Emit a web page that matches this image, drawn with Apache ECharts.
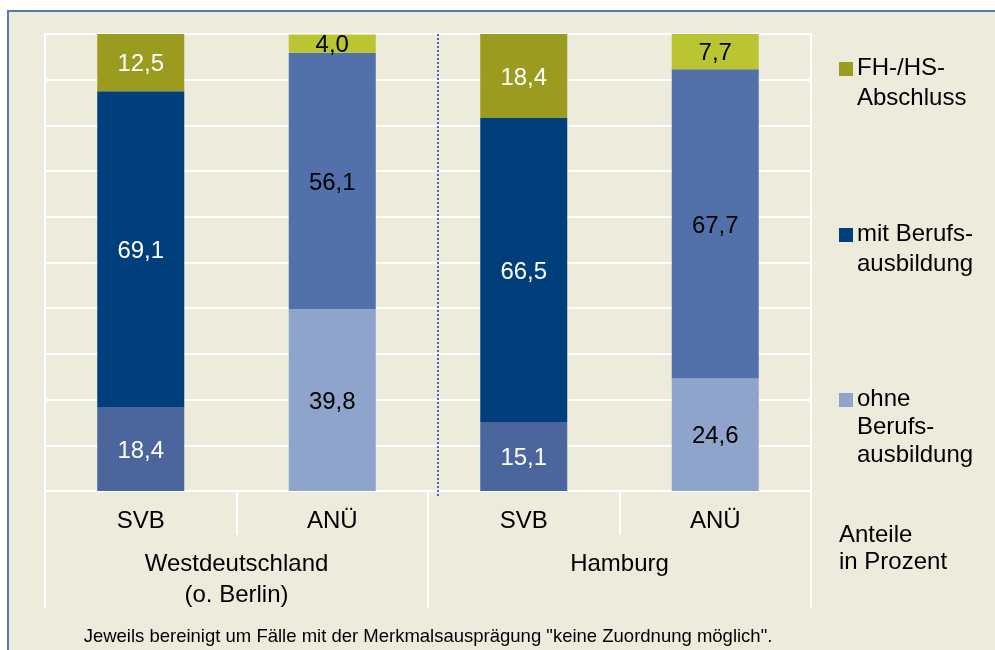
<!doctype html>
<html lang="de">
<head>
    <meta charset="UTF-8">
    <title>Qualifikation SVB / ANÜ</title>
    <script src="https://cdn.jsdelivr.net/npm/echarts@6/dist/echarts.min.js"></script>
    <style>
        html, body { margin: 0; padding: 0; background: #fff; }
        #chart { width: 995px; height: 650px; }
    </style>
</head>
<body>
<div id="chart"></div>
<script type="text/javascript">
/* Daten */
const categories = ['SVB', 'ANÜ', 'SVB', 'ANÜ'];
const groups = ['Westdeutschland\n(o. Berlin)', 'Hamburg'];
const ohneValues = [18.4, 39.8, 15.1, 24.6];
const mitValues = [69.1, 56.1, 66.5, 67.7];
const fhValues = [12.5, 4.0, 18.4, 7.7];
const legendNames = ['FH-/HS-\nAbschluss', 'mit Berufs-\nausbildung', 'ohne\nBerufs-\nausbildung'];

/* Farben je Balken */
const ohneColors = ['#4B669D', '#8FA4CB', '#4B669D', '#8FA4CB'];
const mitColors = ['#003F7C', '#5271AA', '#003F7C', '#5271AA'];
const fhColors = ['#9A9B1F', '#BBC431', '#9A9B1F', '#BBC431'];
const labelColors = ['#fff', '#000', '#fff', '#000'];
const legendColors = ['#9A9B1F', '#003F7C', '#8FA4CB'];

const FONT = '"Liberation Sans", Arial, sans-serif';

function fmt(v) {
    return v.toFixed(1).replace('.', ',');
}

function makeSeries(name, values, colors) {
    return {
        name: name,
        type: 'bar',
        stack: 'total',
        barWidth: 87,
        xAxisIndex: 0,
        data: values.map(function (v, i) {
            return {
                value: v,
                itemStyle: { color: colors[i] },
                label: { color: labelColors[i] }
            };
        }),
        label: {
            show: true,
            position: 'inside',
            fontSize: 24,
            fontFamily: FONT,
            offset: [0, 2],
            formatter: function (p) { return fmt(p.value); }
        },
        emphasis: { disabled: true }
    };
}

let chart = echarts.init(document.getElementById('chart'));

/* Legende (rechts) */
let legendTops = [62, 228, 393];
let legendLineH = [30, 30, 28];
let legendGraphics = [];
legendNames.forEach(function (n, i) {
    legendGraphics.push({
        type: 'rect',
        shape: { x: 839, y: legendTops[i], width: 14, height: 14 },
        style: { fill: legendColors[i] }
    });
    legendGraphics.push({
        type: 'text',
        style: {
            text: n, x: 857, y: legendTops[i] + 6 - legendLineH[i] / 2,
            font: '24px ' + FONT, fill: '#000',
            lineHeight: legendLineH[i], verticalAlign: 'top'
        }
    });
});

let option = {
    backgroundColor: '#fff',
    animation: false,
    grid: {
        left: 45, right: 184, top: 34, bottom: 159,
        show: true, borderColor: '#fff', borderWidth: 2,
        backgroundColor: 'transparent'
    },
    xAxis: [
        {
            type: 'category',
            data: categories,
            position: 'bottom',
            axisLine: { lineStyle: { color: '#fff', width: 2 } },
            axisTick: { show: true, length: 44, interval: 0, lineStyle: { color: '#fff', width: 2 } },
            axisLabel: { fontSize: 24, color: '#000', margin: 18, fontFamily: FONT }
        },
        {
            type: 'category',
            data: groups,
            position: 'bottom',
            offset: 44,
            axisLine: { show: false },
            axisTick: { show: true, length: 73, interval: 0, lineStyle: { color: '#fff', width: 2 } },
            axisLabel: { fontSize: 24, color: '#000', margin: 14, lineHeight: 31, fontFamily: FONT }
        }
    ],
    yAxis: {
        type: 'value',
        min: 0, max: 100, interval: 10,
        axisLabel: { show: false },
        axisLine: { show: false },
        axisTick: { show: false },
        splitLine: { lineStyle: { color: '#fff', width: 2 } }
    },
    series: [
        makeSeries('ohne Berufsausbildung', ohneValues, ohneColors),
        makeSeries('mit Berufsausbildung', mitValues, mitColors),
        makeSeries('FH-/HS-Abschluss', fhValues, fhColors)
    ],
    graphic: [
        {
            type: 'rect', z: -10,
            shape: { x: 8, y: 11, width: 1000, height: 700 },
            style: { fill: '#EDEBDC', stroke: '#5B77AE', lineWidth: 2 }
        },
        {
            type: 'line', z: 10,
            shape: { x1: 438, y1: 34, x2: 438, y2: 497 },
            style: { stroke: '#4B6AAD', lineWidth: 2, lineDash: [2, 2] }
        },
        {
            type: 'text',
            style: {
                text: 'Anteile\nin Prozent', x: 839, y: 522,
                font: '24px ' + FONT, fill: '#000', lineHeight: 27, verticalAlign: 'top'
            }
        },
        {
            type: 'text',
            style: {
                text: 'Jeweils bereinigt um Fälle mit der Merkmalsausprägung "keine Zuordnung möglich".',
                x: 428, y: 637, font: '18.5px ' + FONT, fill: '#000',
                align: 'center', verticalAlign: 'middle'
            }
        }
    ].concat(legendGraphics)
};
chart.setOption(option);
</script>
</body>
</html>
